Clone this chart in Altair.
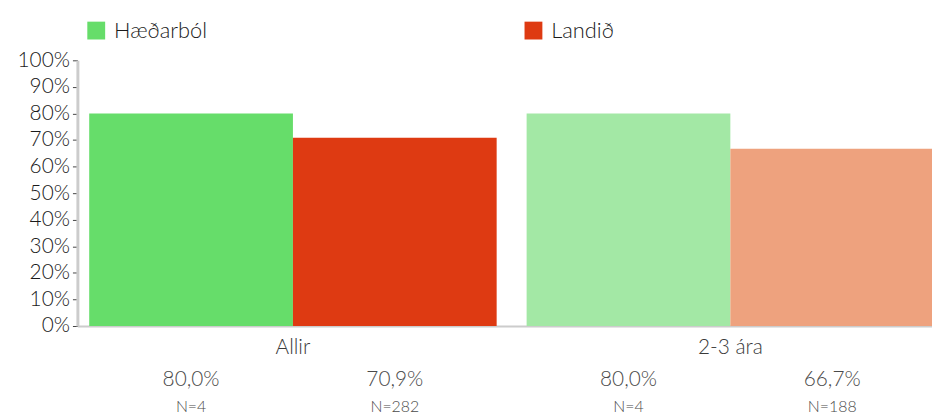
import altair as alt
import pandas as pd

groups = ["Allir", "2-3 ára"]
series = ["Hæðarból", "Landið"]
values = [[80.0, 70.9], [80.0, 66.7]]
counts = [[4, 282], [4, 188]]
colors = ["#66dd6a", "#de3a12", "#a3e8a5", "#eea27e"]

rows = []
for gi, g in enumerate(groups):
    for si, s in enumerate(series):
        v = values[gi][si]
        rows.append({
            "group": g,
            "series": s,
            "value": v / 100.0,
            "key": s + "|" + g,
            "pct": f"{v:.1f}".replace(".", ",") + "%",
            "n": f"N={counts[gi][si]}",
        })
df = pd.DataFrame(rows)
keys = [s + "|" + g for g in groups for s in series]

FONT = "Lato"
W, H = 862, 268

x_enc = alt.X("group:N", sort=groups,
              scale=alt.Scale(range=[0, 876], paddingInner=0.0685, paddingOuter=0.027),
              axis=alt.Axis(title=None, labelAngle=0, labelFontSize=21, labelColor="#3a3a3a",
                            labelPadding=11, ticks=False, domainColor="#cccccc", domainWidth=2,
                            labelFont=FONT, labelFontWeight=300))
xo_enc = alt.XOffset("series:N", sort=series, scale=alt.Scale(paddingInner=0))

base = alt.Chart(df).encode(x=x_enc, xOffset=xo_enc)

bars = base.mark_bar().encode(
    y=alt.Y("value:Q", scale=alt.Scale(domain=[0, 1]),
            axis=alt.Axis(title=None, format="0%", values=[i / 10 for i in range(11)],
                          labelFontSize=21, labelColor="#1a1a1a", labelFont=FONT, labelFontWeight=300,
                          tickColor="#444", tickSize=5, labelPadding=3,
                          domainColor="#cccccc", domainWidth=3, grid=False)),
    fill=alt.Fill("key:N", scale=alt.Scale(domain=keys, range=colors),
                  legend=alt.Legend(title=None, values=[keys[0], keys[1]],
                                    labelExpr="split(datum.label, '|')[0]",
                                    orient="none", legendX=8, legendY=-41,
                                    direction="horizontal", columns=2, columnPadding=318,
                                    symbolType="square", symbolSize=324, symbolStrokeWidth=0,
                                    labelFontSize=22, labelColor="#1a1a1a", labelFont=FONT,
                                    labelFontWeight=300, labelOffset=7)),
)

pct_text = base.mark_text(fontSize=21, color="#4a4a4a", font=FONT, fontWeight=300,
                          baseline="middle").encode(y=alt.value(H + 55), text="pct:N")
n_text = base.mark_text(fontSize=16, color="#4a4a4a", font=FONT, fontWeight=300,
                        baseline="middle").encode(y=alt.value(H + 82), text="n:N")

chart = alt.layer(bars, pct_text, n_text).properties(
    width=W, height=H,
    autosize=alt.AutoSizeParams(type="none"),
    padding={"left": 70, "top": 51, "right": 0, "bottom": 90},
).configure_view(stroke=None)

chart.save("out.html", embed_options={"renderer": "svg", "actions": False})
